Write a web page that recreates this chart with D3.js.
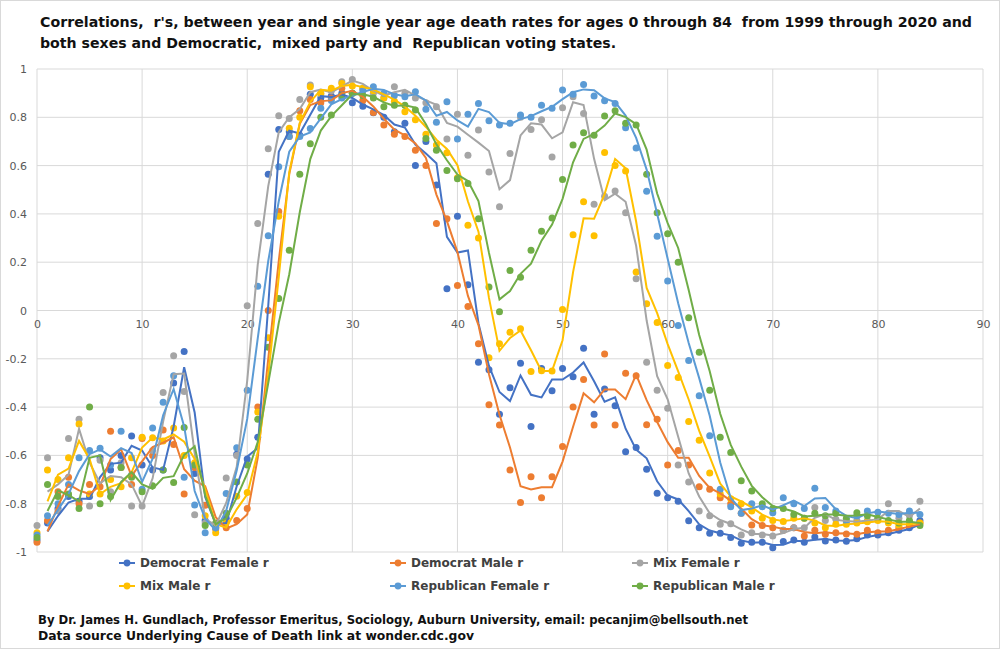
<!DOCTYPE html>
<html><head><meta charset="utf-8">
<script src="https://cdn.jsdelivr.net/npm/d3@7/dist/d3.min.js"></script>
<style>body{margin:0;background:#fff;} svg{display:block;font-family:"DejaVu Sans",Verdana,sans-serif;} text{white-space:pre;}</style>
</head><body><svg id="chart" width="1000" height="649"></svg>
<script>
const ages = d3.range(0, 85);
const demFemale = [-0.95,-0.88,-0.82,-0.77,-0.79,-0.77,-0.61,-0.66,-0.60,-0.52,
 -0.64,-0.66,-0.66,-0.30,-0.17,-0.675,-0.87,-0.90,-0.86,-0.595,
 -0.615,-0.525,0.564,0.75,0.74,0.726,0.895,0.88,0.888,0.90,
 0.86,0.846,0.819,0.80,0.74,0.775,0.60,0.70,0.52,0.09,
 0.39,0.107,-0.214,-0.245,-0.43,-0.32,-0.218,-0.48,-0.24,-0.332,
 -0.24,-0.274,-0.156,-0.43,-0.325,-0.394,-0.585,-0.567,-0.657,-0.757,
 -0.775,-0.79,-0.871,-0.90,-0.922,-0.922,-0.94,-0.964,-0.96,-0.96,
 -0.982,-0.957,-0.95,-0.96,-0.938,-0.954,-0.95,-0.956,-0.945,-0.93,
 -0.93,-0.92,-0.91,-0.90,-0.87];
const demMale = [-0.96,-0.87,-0.75,-0.69,-0.80,-0.72,-0.73,-0.50,-0.65,-0.72,
 -0.53,-0.60,-0.495,-0.555,-0.76,-0.65,-0.806,-0.905,-0.90,-0.87,
 -0.82,-0.40,0.0,0.41,0.72,0.827,0.874,0.86,0.88,0.92,
 0.90,0.87,0.82,0.768,0.73,0.72,0.664,0.60,0.36,0.38,
 0.104,0.017,-0.138,-0.39,-0.474,-0.66,-0.795,-0.688,-0.775,-0.688,
 -0.563,-0.40,-0.286,-0.474,-0.18,-0.474,-0.26,-0.27,-0.473,-0.45,
 -0.64,-0.58,-0.64,-0.73,-0.74,-0.775,-0.80,-0.84,-0.888,-0.89,
 -0.90,-0.91,-0.90,-0.934,-0.91,-0.927,-0.92,-0.925,-0.927,-0.91,
 -0.92,-0.91,-0.90,-0.89,-0.88];
const mixFemale = [-0.89,-0.61,-0.83,-0.53,-0.45,-0.81,-0.62,-0.75,-0.63,-0.81,
 -0.81,-0.58,-0.34,-0.187,-0.335,-0.846,-0.88,-0.90,-0.694,-0.60,
 0.02,0.36,0.67,0.806,0.795,0.874,0.934,0.896,0.91,0.947,
 0.957,0.92,0.90,0.88,0.927,0.90,0.88,0.86,0.844,0.71,
 0.813,0.643,0.747,0.574,0.43,0.65,0.80,0.75,0.79,0.636,
 0.84,0.885,0.816,0.44,0.473,0.495,0.405,0.131,-0.214,-0.33,
 -0.405,-0.64,-0.71,-0.83,-0.85,-0.885,-0.883,-0.93,-0.92,-0.93,
 -0.934,-0.91,-0.90,-0.90,-0.816,-0.87,-0.864,-0.88,-0.87,-0.87,
 -0.86,-0.80,-0.86,-0.85,-0.79];
const mixMale = [-0.92,-0.66,-0.70,-0.61,-0.47,-0.76,-0.76,-0.70,-0.73,-0.61,
 -0.525,-0.527,-0.54,-0.487,-0.60,-0.63,-0.85,-0.92,-0.878,-0.769,
 -0.754,-0.42,-0.113,0.39,0.755,0.80,0.927,0.90,0.92,0.94,
 0.93,0.92,0.91,0.88,0.866,0.823,0.79,0.73,0.685,0.653,
 0.55,0.353,0.30,-0.196,-0.138,-0.09,-0.076,-0.253,-0.249,-0.25,
 0.004,0.314,0.45,0.31,0.654,0.60,0.578,0.159,0.028,-0.05,
 -0.228,-0.277,-0.46,-0.537,-0.673,-0.76,-0.78,-0.80,-0.83,-0.86,
 -0.87,-0.874,-0.86,-0.86,-0.88,-0.90,-0.885,-0.885,-0.88,-0.875,
 -0.87,-0.88,-0.89,-0.88,-0.88];
const repFemale = [-0.93,-0.85,-0.80,-0.72,-0.61,-0.58,-0.57,-0.64,-0.50,-0.68,
 -0.74,-0.487,-0.38,-0.27,-0.69,-0.805,-0.92,-0.90,-0.758,-0.568,
 -0.33,0.10,0.31,0.595,0.72,0.72,0.754,0.837,0.87,0.88,
 0.90,0.91,0.927,0.90,0.89,0.885,0.906,0.833,0.78,0.864,
 0.71,0.813,0.857,0.786,0.768,0.775,0.81,0.80,0.85,0.837,
 0.913,0.895,0.936,0.888,0.869,0.857,0.757,0.673,0.494,0.307,
 0.122,-0.062,-0.207,-0.353,-0.519,-0.74,-0.813,-0.84,-0.80,-0.813,
 -0.837,-0.775,-0.80,-0.82,-0.736,-0.816,-0.83,-0.871,-0.85,-0.83,
 -0.835,-0.84,-0.845,-0.83,-0.845];
const repMale = [-0.94,-0.72,-0.77,-0.76,-0.82,-0.40,-0.80,-0.77,-0.65,-0.69,
 -0.75,-0.726,-0.66,-0.712,-0.484,-0.64,-0.89,-0.88,-0.84,-0.71,
 -0.64,-0.45,-0.152,0.05,0.25,0.564,0.69,0.80,0.81,0.89,
 0.90,0.89,0.88,0.844,0.85,0.85,0.83,0.712,0.664,0.58,
 0.546,0.526,0.38,0.097,-0.005,0.166,0.138,0.25,0.328,0.383,
 0.542,0.685,0.736,0.726,0.805,0.827,0.775,0.768,0.564,0.405,
 0.318,0.20,-0.03,-0.173,-0.33,-0.525,-0.588,-0.705,-0.747,-0.80,
 -0.82,-0.82,-0.845,-0.86,-0.84,-0.85,-0.84,-0.86,-0.837,-0.85,
 -0.86,-0.87,-0.88,-0.87,-0.89];

const seriesNames = ["Democrat Female r","Democrat Male r","Mix Female r","Mix Male r","Republican Female r","Republican Male r"];
const seriesValues = [demFemale, demMale, mixFemale, mixMale, repFemale, repMale];
const seriesColors = ["#4472C4","#ED7D31","#A5A5A5","#FFC000","#5B9BD5","#70AD47"];
const xTicks = [0,10,20,30,40,50,60,70,80,90];
const yTicks = [-1,-0.8,-0.6,-0.4,-0.2,0,0.2,0.4,0.6,0.8,1];
const titleLines = ["Correlations,  r's, between year and single year age death rates for ages 0 through 84  from 1999 through 2020 and",
  "both sexes and Democratic,  mixed party and  Republican voting states."];
const footerLines = ["By Dr. James H. Gundlach, Professor Emeritus, Sociology, Auburn University, email: pecanjim@bellsouth.net",
  "Data source Underlying Cause of Death link at wonder.cdc.gov"];

const svg = d3.select("#chart");
svg.append("rect").attr("x",0.5).attr("y",0.5).attr("width",999).attr("height",648)
  .attr("fill","#fff").attr("stroke","#d9d9d9");

const x = d3.scaleLinear().domain([0, 90]).range([37, 983]);
const y = d3.scaleLinear().domain([-1, 1]).range([552, 69]);

// gridlines
const grid = svg.append("g");
grid.selectAll("line.h").data(yTicks).join("line")
  .attr("x1", x(0)).attr("x2", x(90)).attr("y1", d => y(d)).attr("y2", d => y(d))
  .attr("stroke", "#d9d9d9").attr("stroke-width", 1);
grid.selectAll("line.v").data(xTicks).join("line")
  .attr("y1", y(-1)).attr("y2", y(1)).attr("x1", d => x(d)).attr("x2", d => x(d))
  .attr("stroke", "#d9d9d9").attr("stroke-width", 1);

// y axis labels
const yAxis = d3.axisLeft(y).tickValues(yTicks).tickSize(0).tickPadding(10)
  .tickFormat(d => d === 0 ? "0" : String(+d.toFixed(1)));
const gy = svg.append("g").attr("transform", `translate(${x(0)},0)`).call(yAxis);
gy.select(".domain").remove();
gy.selectAll("text").attr("font-size", 11).attr("fill", "#595959")
  .attr("font-family", "DejaVu Sans, sans-serif");

// x axis labels at y=0
const xAxis = d3.axisBottom(x).tickValues(xTicks).tickSize(0).tickPadding(10);
const gx = svg.append("g").attr("transform", `translate(0,${y(0)})`).call(xAxis);
gx.select(".domain").remove();
gx.selectAll("text").attr("font-size", 11).attr("fill", "#595959")
  .attr("font-family", "DejaVu Sans, sans-serif");

// points
seriesValues.forEach((vals, si) => {
  svg.append("g").selectAll("circle").data(ages).join("circle")
    .attr("cx", a => x(a)).attr("cy", a => y(vals[a])).attr("r", 3.5)
    .attr("fill", seriesColors[si]);
});

// 2-period moving average trendlines
const line = d3.line().x(d => x(d.a)).y(d => y(d.v));
seriesValues.forEach((vals, si) => {
  const ma = ages.slice(1).map(a => ({a, v: (vals[a-1] + vals[a]) / 2}));
  svg.append("path").datum(ma).attr("d", line).attr("fill", "none")
    .attr("stroke", seriesColors[si]).attr("stroke-width", 2);
});

// title
const tl = svg.append("g");
[[40, 27, 932], [40, 48, 576]].forEach((p, i) => {
  tl.append("text").attr("x", p[0]).attr("y", p[1]).text(titleLines[i])
    .attr("font-size", 13.5).attr("font-weight", "bold").attr("fill", "#111")
    .attr("textLength", p[2]).attr("lengthAdjust", "spacingAndGlyphs");
});

// legend
const legPos = [[127,563],[398,563],[640,563],[127,586],[398,586],[640,586]];
seriesNames.forEach((n, i) => {
  const g = svg.append("g").attr("transform", `translate(${legPos[i][0]},${legPos[i][1]})`);
  g.append("line").attr("x1", -8).attr("x2", 8).attr("y1", 0).attr("y2", 0)
    .attr("stroke", seriesColors[i]).attr("stroke-width", 2);
  g.append("circle").attr("r", 3.4).attr("fill", seriesColors[i]);
  g.append("text").attr("x", 13).attr("y", 4).text(n)
    .attr("font-size", 12).attr("font-weight", "bold").attr("fill", "#404040");
});

// footer
[[38, 624, 710], [38, 640, 436]].forEach((p, i) => {
  svg.append("text").attr("x", p[0]).attr("y", p[1]).text(footerLines[i])
    .attr("font-size", 12).attr("font-weight", "bold").attr("fill", "#111")
    .attr("textLength", p[2]).attr("lengthAdjust", "spacingAndGlyphs");
});
</script></body></html>
